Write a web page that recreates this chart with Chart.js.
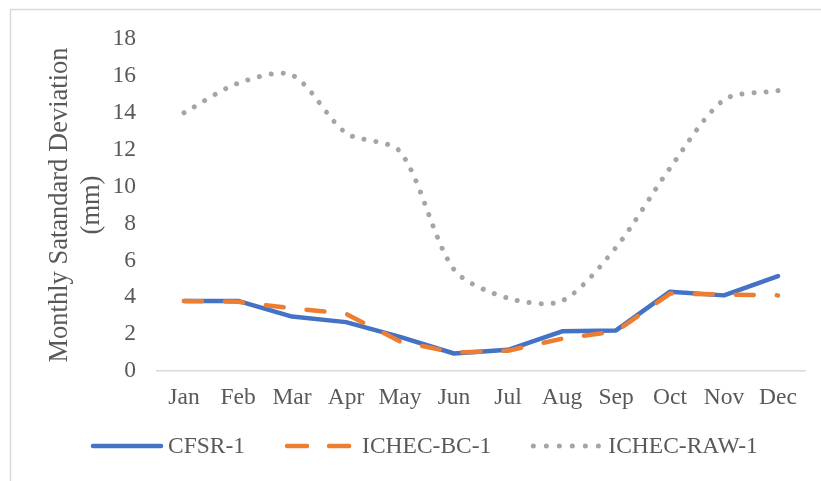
<!DOCTYPE html>
<html>
<head>
<meta charset="utf-8">
<script src="https://cdn.jsdelivr.net/npm/chart.js@4/dist/chart.umd.min.js"></script>
<style>
  html, body { margin: 0; padding: 0; background: #ffffff; }
  #wrap { width: 821px; height: 481px; position: relative; }
</style>
</head>
<body>
<div id="wrap"><canvas id="chart" width="821" height="481"></canvas></div>
<script>
// Monthly standard deviation of precipitation (mm)
const months = ['Jan', 'Feb', 'Mar', 'Apr', 'May', 'Jun', 'Jul', 'Aug', 'Sep', 'Oct', 'Nov', 'Dec'];
const cfsr1 = [3.8, 3.8, 2.95, 2.65, 1.85, 0.95, 1.15, 2.15, 2.2, 4.3, 4.1, 5.15];
const ichecBc1 = [3.8, 3.75, 3.4, 3.1, 1.6, 1.0, 1.1, 1.75, 2.15, 4.2, 4.15, 4.1];
const ichecRaw1 = [14.0, 15.6, 16.05, 12.9, 11.9, 5.5, 3.95, 3.8, 6.7, 11.0, 14.7, 15.2];
const yTicks = [0, 2, 4, 6, 8, 10, 12, 14, 16, 18];

const textColor = '#595959';
const serif = '"Liberation Serif", "Times New Roman", serif';

// Light frame around the chart
const framePlugin = {
  id: 'frame',
  beforeDraw(chart) {
    const ctx = chart.ctx;
    ctx.save();
    ctx.fillStyle = '#ffffff';
    ctx.fillRect(0, 0, chart.width, chart.height);
    ctx.strokeStyle = '#d9d9d9';
    ctx.lineWidth = 1.5;
    ctx.strokeRect(10.5, 9.5, 1000, 1000);
    ctx.restore();
  }
};

// Legend drawn as line samples followed by the series name
const lineLegend = {
  id: 'lineLegend',
  afterDraw(chart) {
    const ctx = chart.ctx;
    const y = 446;
    const sampleLen = 72;
    const sampleDash = [[], [20, 22], [0.01, 13]];
    let x = 91;
    ctx.save();
    ctx.font = '23.5px ' + serif;
    ctx.textBaseline = 'middle';
    ctx.fillStyle = textColor;
    chart.data.datasets.forEach((ds, i) => {
      ctx.beginPath();
      ctx.strokeStyle = ds.borderColor;
      ctx.lineWidth = ds.borderWidth;
      ctx.lineCap = 'round';
      ctx.setLineDash(sampleDash[i]);
      ctx.moveTo(x + 2, y);
      ctx.lineTo(x + sampleLen - 2, y);
      ctx.stroke();
      ctx.setLineDash([]);
      const tx = x + sampleLen + 5;
      ctx.fillText(ds.label, tx, y + 1);
      x = tx + ctx.measureText(ds.label).width + 40;
    });
    ctx.restore();
  }
};

new Chart(document.getElementById('chart'), {
  type: 'line',
  data: {
    labels: months,
    datasets: [
      {
        label: 'CFSR-1',
        data: cfsr1,
        borderColor: '#4472C4',
        backgroundColor: '#4472C4',
        borderWidth: 4.5,
        borderCapStyle: 'round',
        borderJoinStyle: 'round',
        pointRadius: 0,
        tension: 0,
        order: 3
      },
      {
        label: 'ICHEC-BC-1',
        data: ichecBc1,
        borderColor: '#ED7D31',
        backgroundColor: '#ED7D31',
        borderWidth: 4.5,
        borderDash: [18, 23],
        borderCapStyle: 'round',
        borderJoinStyle: 'round',
        pointRadius: 0,
        tension: 0,
        order: 2
      },
      {
        label: 'ICHEC-RAW-1',
        data: ichecRaw1,
        borderColor: '#A5A5A5',
        backgroundColor: '#A5A5A5',
        borderWidth: 5,
        borderDash: [0.01, 12],
        borderCapStyle: 'round',
        borderJoinStyle: 'round',
        pointRadius: 0,
        tension: 0.28,
        order: 1
      }
    ]
  },
  options: {
    responsive: false,
    animation: false,
    devicePixelRatio: 1,
    layout: { padding: { top: 39, right: 16, left: 20, bottom: 69 } },
    plugins: {
      legend: { display: false },
      tooltip: { enabled: false },
      title: { display: false }
    },
    scales: {
      x: {
        offset: true,
        grid: { display: false, drawTicks: false },
        border: { display: true, color: '#d9d9d9', width: 1.5 },
        ticks: {
          color: textColor,
          font: { family: serif, size: 23.5 },
          padding: 13,
          maxRotation: 0,
          autoSkip: false
        },
        afterFit(scale) { scale.height = 41; }
      },
      y: {
        min: 0,
        max: 18,
        afterBuildTicks(scale) { scale.ticks = yTicks.map(v => ({ value: v })); },
        grid: { display: false, drawTicks: false },
        border: { display: false },
        ticks: {
          color: textColor,
          font: { family: serif, size: 23.5 },
          padding: 21
        },
        title: {
          display: true,
          text: ['Monthly Satandard Deviation', '(mm)'],
          color: textColor,
          font: { family: serif, size: 26.5, lineHeight: 1.2 },
          padding: { top: 24, bottom: 0 }
        },
        afterFit(scale) { scale.width = 137; }
      }
    }
  },
  plugins: [framePlugin, lineLegend]
});
</script>
</body>
</html>
